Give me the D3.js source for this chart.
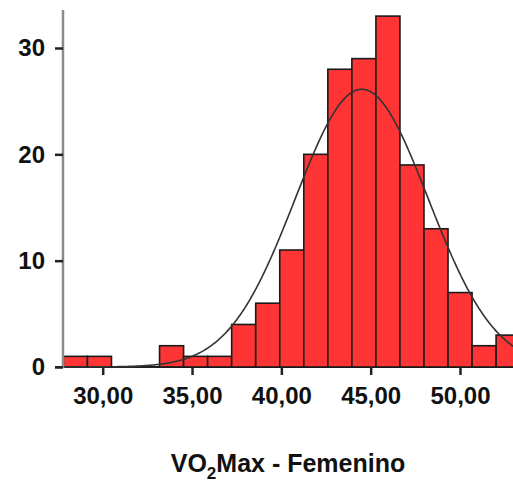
<!DOCTYPE html>
<html><head><meta charset="utf-8">
<script src="https://cdn.jsdelivr.net/npm/d3@7"></script>
<style>body{margin:0;background:#fff;overflow:hidden}</style>
</head><body>
<svg id="c" width="513" height="482"></svg>
<script>
// Histogram counts per bin (left to right)
const counts = [1, 1, 0, 0, 2, 1, 1, 4, 6, 11, 20, 28, 29, 33, 19, 13, 7, 2, 3];
const binStart = 27.8;
const binWidth = 1.3456;
const xTicks = [30, 35, 40, 45, 50];
const xTickLabels = ["30,00", "35,00", "40,00", "45,00", "50,00"];
const yTicks = [0, 10, 20, 30];
const yTickLabels = ["0", "10", "20", "30"];
const fitMean = 44.5;
const fitSD = 3.72;
const xTitle = ["VO", "2", "Max - Femenino"];

const nTotal = d3.sum(counts);
const svg = d3.select("#c");
const FONT = "'Liberation Sans', Arial, sans-serif";

const x = d3.scaleLinear().domain([30, 50]).range([102.7, 460]);
const y = d3.scaleLinear().domain([0, 30]).range([367, 48]);

const bins = counts.map((c, i) => ({ x0: binStart + i * binWidth, x1: binStart + (i + 1) * binWidth, c }));

// x axis baseline
svg.append("line").attr("x1", 55).attr("x2", 513).attr("y1", y(0)).attr("y2", y(0))
  .attr("stroke", "#222").attr("stroke-width", 2);

// bars
svg.append("g").selectAll("rect").data(bins.filter(b => b.c > 0)).join("rect")
  .attr("x", d => x(d.x0)).attr("width", d => x(d.x1) - x(d.x0))
  .attr("y", d => y(d.c)).attr("height", d => y(0) - y(d.c))
  .attr("fill", "#ff3535").attr("stroke", "#1a1a1a").attr("stroke-width", 1.6);

// normal curve
const pts = d3.range(binStart, binStart + counts.length * binWidth + 0.001, 0.05).map(v => {
  const z = (v - fitMean) / fitSD;
  return [v, nTotal * binWidth / (fitSD * Math.sqrt(2 * Math.PI)) * Math.exp(-0.5 * z * z)];
});
svg.append("path").datum(pts)
  .attr("d", d3.line().x(d => x(d[0])).y(d => y(d[1])))
  .attr("fill", "none").attr("stroke", "#333").attr("stroke-width", 1.6);

// y axis
svg.append("line").attr("x1", 63).attr("x2", 63).attr("y1", 10).attr("y2", y(0) + 1)
  .attr("stroke", "#8a8a8a").attr("stroke-width", 2.5);
const yAxis = d3.axisLeft(y).tickValues(yTicks).tickFormat((d, i) => yTickLabels[i]).tickSize(8).tickPadding(10);
const gy = svg.append("g").attr("transform", "translate(63,0)").call(yAxis);
gy.select(".domain").remove();
gy.selectAll(".tick line").attr("stroke", "#222").attr("stroke-width", 2.5);
gy.selectAll("text").attr("font-family", FONT).attr("font-weight", "bold").attr("font-size", 24).attr("fill", "#111");

// x axis
const xAxis = d3.axisBottom(x).tickValues(xTicks).tickFormat((d, i) => xTickLabels[i]).tickSize(8).tickPadding(12);
const gx = svg.append("g").attr("transform", `translate(0,${y(0)})`).call(xAxis);
gx.select(".domain").remove();
gx.selectAll(".tick line").attr("stroke", "#222").attr("stroke-width", 2.5);
gx.selectAll("text").attr("font-family", FONT).attr("font-weight", "bold").attr("font-size", 24).attr("fill", "#111");

// title
const t = svg.append("text").attr("x", 288).attr("y", 472).attr("text-anchor", "middle")
  .attr("font-family", FONT).attr("font-weight", "bold").attr("font-size", 25).attr("fill", "#111");
t.append("tspan").text(xTitle[0]);
t.append("tspan").attr("font-size", 17).attr("dy", 7).text(xTitle[1]);
t.append("tspan").attr("dy", -7).text(xTitle[2]);
</script>
</body></html>
